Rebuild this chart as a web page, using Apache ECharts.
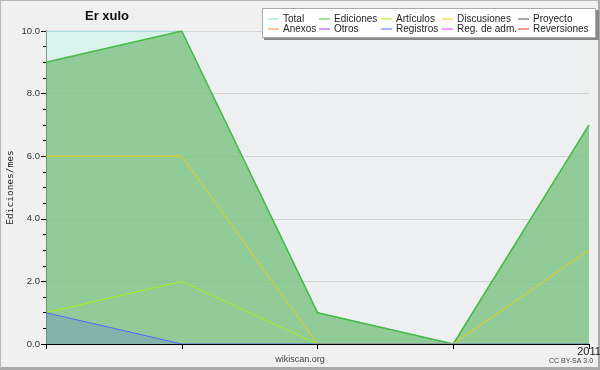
<!DOCTYPE html>
<html><head><meta charset="utf-8">
<script src="https://cdn.jsdelivr.net/npm/echarts@6/dist/echarts.min.js"></script>
<style>
html,body{margin:0;padding:0;background:#f0f0f0;}
#wrap{position:absolute;left:0;top:0;width:600px;height:370px;box-sizing:border-box;border:1px solid #b8b8b8;border-right:2px solid #aaa;border-bottom:3px solid #aaa;}
#c{position:absolute;left:0;top:0;width:600px;height:370px;}
</style></head>
<body><div id="wrap"></div><div id="c"></div>
<script>
const categories = ['', '', '', '', '2011'];
const total = [10, 10, 1, 0, 7];
const ediciones = [9, 10, 1, 0, 7];
const articulos = [1, 2, 0, 0, 0];
const discusiones = [6, 6, 0, 0, 3];
const registros = [1, 0, 0, 0, 0];
const yTicks = [0, 2, 4, 6, 8, 10];

const names = ['Total','Ediciones','Artículos','Discusiones','Proyecto','Anexos','Otros','Registros','Reg. de adm.','Reversiones'];
const colors = ['#88d8d8','#44bb44','#aaee11','#eecc11','#555555','#ff8844','#9944ee','#5566ff','#dd44ee','#ee3333'];
const dataMap = {'Total': total, 'Ediciones': ediciones, 'Artículos': articulos, 'Discusiones': discusiones, 'Registros': registros};
const areaMap = {'Total': 'rgba(205,245,235,0.6)', 'Ediciones': 'rgba(72,164,66,0.5)', 'Registros': 'rgba(90,110,230,0.25)'};

const series = names.map((n, i) => {
  const s = {
    name: n, type: 'line', data: dataMap[n] || [], symbol: 'none',
    lineStyle: {color: colors[i], width: n === 'Ediciones' ? 1.5 : 1},
    itemStyle: {color: colors[i]}, z: 2 + i * 0.01, silent: true
  };
  if (areaMap[n]) s.areaStyle = {color: areaMap[n], opacity: 1};
  return s;
});

const legendCols = [[0,5],[1,6],[2,7],[3,8],[4,9]];
const colX = [268, 319, 381, 442, 518];
const legends = legendCols.map((pair, k) => ({
  orient: 'vertical', left: colX[k], top: 14, itemGap: 0, padding: 0,
  itemWidth: 11, itemHeight: 10, icon: 'path://M0,4.5 L11,4.5 L11,5.5 L0,5.5 Z',
  selectedMode: false, z: 101,
  data: pair.map(i => ({name: names[i], itemStyle: {color: colors[i]}})),
  textStyle: {fontFamily: 'Liberation Sans', fontSize: 10, color: '#222', padding: [0,0,0,-1]}
}));

const chart = echarts.init(document.getElementById('c'), null, {renderer: 'canvas'});
chart.setOption({
  animation: false,
  backgroundColor: 'transparent',
  title: {text: 'Er xulo', left: 85, top: 10, padding: 0, textStyle: {fontFamily: 'Liberation Sans', fontSize: 13, fontWeight: 'bold', color: '#111'}},
  grid: {left: 46, right: 11, top: 31, bottom: 26, show: true, backgroundColor: '#eeeff1', borderWidth: 0, outerBoundsMode: 'none', containLabel: false},
  graphic: [
    {type: 'rect', shape: {x: 264, y: 10, width: 335, height: 30}, style: {fill: '#888'}, z: 99},
    {type: 'rect', shape: {x: 262.5, y: 8.5, width: 333, height: 29}, style: {fill: '#fff', stroke: '#aaa', lineWidth: 1}, z: 100},
    {type: 'text', left: 'center', top: 355, style: {text: 'wikiscan.org', fontFamily: 'Liberation Sans', fontSize: 9, fill: '#444'}},
    {type: 'text', left: 549, top: 358, style: {text: 'CC BY-SA 3.0', fontFamily: 'Liberation Sans', fontSize: 7, fill: '#444'}}
  ],
  legend: legends,
  xAxis: {
    type: 'category', data: categories, boundaryGap: false, z: 5,
    axisLine: {lineStyle: {color: '#000', width: 1}},
    axisTick: {show: true, length: 5, inside: false, lineStyle: {color: '#000'}, alignWithLabel: true, interval: 0},
    axisLabel: {interval: 0, fontFamily: 'Liberation Sans', fontSize: 11, color: '#222', margin: 2, align: 'center'},
    splitLine: {show: false}
  },
  yAxis: {
    type: 'value', min: 0, max: 10, interval: 2,
    name: 'Ediciones/mes', nameLocation: 'middle', nameGap: 30, nameRotate: 90, nameMoveOverlap: false,
    nameTextStyle: {fontFamily: 'DejaVu Sans Mono', fontSize: 9.5, color: '#222'},
    axisLine: {show: true, lineStyle: {color: '#000', width: 1}},
    axisTick: {show: true, length: 5, lineStyle: {color: '#000'}},
    minorTick: {show: true, splitNumber: 4, length: 3, lineStyle: {color: '#000'}},
    axisLabel: {fontFamily: 'Liberation Sans', fontSize: 9.5, color: '#333', margin: 6,
      formatter: v => yTicks.includes(v) ? v.toFixed(1) : ''},
    splitLine: {show: true, lineStyle: {color: '#d2d3d5', width: 1}}
  },
  series: series
});
</script></body></html>
